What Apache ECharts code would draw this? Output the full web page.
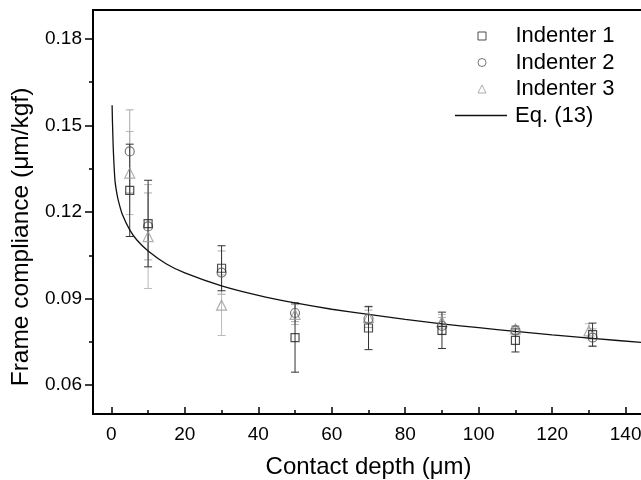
<!DOCTYPE html>
<html><head><meta charset="utf-8">
<script src="https://cdn.jsdelivr.net/npm/echarts@6/dist/echarts.min.js"></script>
<style>html,body{margin:0;padding:0;background:#fff}#c{width:641px;height:480px}</style>
</head><body><div id="c"></div>
<script>
// ---- data ----
const depth1 = [5, 10, 30, 50, 70, 90, 110, 131];
const depth2 = [5, 10, 30, 50, 70, 90, 110, 131];
const depth3 = [5, 10, 30, 50, 70, 90, 110, 130];
const ind1 = [0.1275, 0.116, 0.1005, 0.0765, 0.0798, 0.0790, 0.0755, 0.0775];
const ind1Err = [0.016, 0.015, 0.0078, 0.012, 0.0075, 0.0063, 0.004, 0.004];
const ind2 = [0.141, 0.115, 0.099, 0.085, 0.083, 0.0805, 0.079, 0.0765];
const ind2Err = [0.0144, 0.0116, 0.0075, 0.003, 0.003, 0.003, 0.0015, 0.003];
const ind3 = [0.1335, 0.1115, 0.0877, 0.0845, 0.0835, 0.082, 0.0795, 0.0788];
const ind3Err = [0.0144, 0.018, 0.0105, 0.0035, 0.0035, 0.0025, 0.001, 0.0025];
const eqX = [0.2, 0.3, 0.5, 0.7, 1, 1.5, 2, 3, 5, 7, 10, 15, 20, 30, 40, 50, 60, 70, 80, 90, 100, 110, 120, 131, 145];
const eqY = [0.157, 0.1512, 0.1425, 0.1368, 0.1307, 0.1264, 0.1234, 0.1191, 0.1138, 0.1102, 0.1065, 0.1020, 0.0989, 0.0944, 0.0911, 0.0885, 0.0863, 0.0845, 0.0828, 0.0812, 0.0799, 0.0786, 0.0774, 0.0762, 0.0747];
const xTicks = [0, 20, 40, 60, 80, 100, 120, 140];
const xMinor = [10, 30, 50, 70, 90, 110, 130];
const yTicks = [0.06, 0.09, 0.12, 0.15, 0.18];
const yMinor = [0.075, 0.105, 0.135, 0.165];
const names = ['Indenter 1', 'Indenter 2', 'Indenter 3', 'Eq. (13)'];
const xTitle = 'Contact depth (\u03bcm)';
const yTitle = 'Frame compliance (\u03bcm/kgf)';

const FONT = '"Liberation Sans", Arial, sans-serif';
const pts = (xs, ys) => xs.map((x, i) => [x, ys[i]]);
const errs = (xs, ys, es) => xs.map((x, i) => [x, ys[i] - es[i], ys[i] + es[i]]);

function errRender(color) {
  return function (params, api) {
    const x = api.value(0), lo = api.value(1), hi = api.value(2);
    const a = api.coord([x, lo]), b = api.coord([x, hi]);
    const w = 4;
    const st = { stroke: color, lineWidth: 1 };
    return { type: 'group', children: [
      { type: 'line', shape: { x1: a[0], y1: a[1], x2: b[0], y2: b[1] }, style: st },
      { type: 'line', shape: { x1: a[0] - w, y1: a[1], x2: a[0] + w, y2: a[1] }, style: st },
      { type: 'line', shape: { x1: b[0] - w, y1: b[1], x2: b[0] + w, y2: b[1] }, style: st }
    ]};
  };
}

const c1 = '#222', c2 = '#555', c3 = '#9a9a9a';
const e1 = '#333', e2 = '#aaa', e3 = '#bbb';

const chart = echarts.init(document.getElementById('c'), null, { renderer: 'canvas' });
chart.setOption({
  animation: false,
  backgroundColor: '#fff',
  textStyle: { fontFamily: FONT },
  grid: { left: 93, right: -3, top: 10, bottom: 66, show: true, borderColor: '#000', borderWidth: 2, outerBoundsMode: 'none', containLabel: false },
  xAxis: [
    { type: 'value', min: -5, max: 145, position: 'bottom',
      name: xTitle, nameLocation: 'middle', nameGap: 41,
      nameTextStyle: { fontSize: 24, color: '#000', fontFamily: FONT },
      axisLine: { show: true, onZero: false, lineStyle: { color: '#000', width: 2 } },
      axisTick: { show: true, inside: true, length: 7, customValues: xTicks, lineStyle: { color: '#000', width: 1.5 } },
      axisLabel: { show: true, customValues: xTicks, margin: 11, fontSize: 19, color: '#000', fontFamily: FONT },
      splitLine: { show: false } },
    { type: 'value', min: -5, max: 145, position: 'bottom',
      axisLine: { show: false, onZero: false },
      axisTick: { show: true, inside: true, length: 4, customValues: xMinor, lineStyle: { color: '#000', width: 1.5 } },
      axisLabel: { show: false }, splitLine: { show: false } }
  ],
  yAxis: [
    { type: 'value', min: 0.05, max: 0.19, position: 'left',
      name: yTitle, nameLocation: 'middle', nameGap: 57, nameRotate: 90,
      nameTextStyle: { fontSize: 24.5, color: '#000', fontFamily: FONT, padding: [0, 50, 0, 0] },
      axisLine: { show: true, onZero: false, lineStyle: { color: '#000', width: 2 } },
      axisTick: { show: true, inside: false, length: 8, customValues: yTicks, lineStyle: { color: '#000', width: 1.5 } },
      axisLabel: { show: true, customValues: yTicks, margin: 11, fontSize: 19, color: '#000', fontFamily: FONT,
        formatter: v => v.toFixed(2) },
      splitLine: { show: false } },
    { type: 'value', min: 0.05, max: 0.19, position: 'left',
      axisLine: { show: false, onZero: false },
      axisTick: { show: true, inside: false, length: 4, customValues: yMinor, lineStyle: { color: '#000', width: 1.5 } },
      axisLabel: { show: false }, splitLine: { show: false } }
  ],
  legend: [
    { orient: 'vertical', left: 477.5, top: 25, padding: 0, itemWidth: 8, itemHeight: 8, itemGap: 4.5, selectedMode: false,
      textStyle: { fontSize: 22, lineHeight: 22, color: '#000', fontFamily: FONT, padding: [0, 0, 0, 24.5] },
      data: [
        { name: names[0], icon: 'rect', itemStyle: { color: 'rgba(0,0,0,0)', borderColor: c1, borderWidth: 1 } },
        { name: names[1], icon: 'circle', itemStyle: { color: 'rgba(0,0,0,0)', borderColor: c2, borderWidth: 1 } },
        { name: names[2], icon: 'triangle', itemStyle: { color: 'rgba(0,0,0,0)', borderColor: c3, borderWidth: 1 } }
      ] },
    { orient: 'vertical', left: 455, top: 104.5, padding: 0, itemWidth: 52, itemHeight: 1.4, selectedMode: false,
      textStyle: { fontSize: 22, lineHeight: 22, color: '#000', fontFamily: FONT, padding: [0, 0, 0, 3] },
      data: [ { name: names[3], icon: 'rect', itemStyle: { color: '#111', borderWidth: 0 } } ] }
  ],
  series: [
    { type: 'custom', name: 'err3', renderItem: errRender(e3), data: errs(depth3, ind3, ind3Err), encode: { x: 0, y: [1, 2] }, z: 1, silent: true },
    { type: 'custom', name: 'err2', renderItem: errRender(e2), data: errs(depth2, ind2, ind2Err), encode: { x: 0, y: [1, 2] }, z: 1, silent: true },
    { type: 'custom', name: 'err1', renderItem: errRender(e1), data: errs(depth1, ind1, ind1Err), encode: { x: 0, y: [1, 2] }, z: 1, silent: true },
    { type: 'line', name: names[3], data: pts(eqX, eqY), showSymbol: false, symbol: 'none', smooth: 0.15,
      lineStyle: { color: '#111', width: 1.3 }, itemStyle: { color: '#111' }, z: 2 },
    { type: 'scatter', name: names[2], data: pts(depth3, ind3), symbol: 'triangle', symbolSize: 10,
      itemStyle: { color: 'rgba(0,0,0,0)', borderColor: c3, borderWidth: 1.2 }, z: 3 },
    { type: 'scatter', name: names[1], data: pts(depth2, ind2), symbol: 'circle', symbolSize: 9,
      itemStyle: { color: 'rgba(0,0,0,0)', borderColor: c2, borderWidth: 1.2 }, z: 3 },
    { type: 'scatter', name: names[0], data: pts(depth1, ind1), symbol: 'rect', symbolSize: 8,
      itemStyle: { color: 'rgba(0,0,0,0)', borderColor: c1, borderWidth: 1.2 }, z: 3 }
  ]
});
</script>
</body></html>
